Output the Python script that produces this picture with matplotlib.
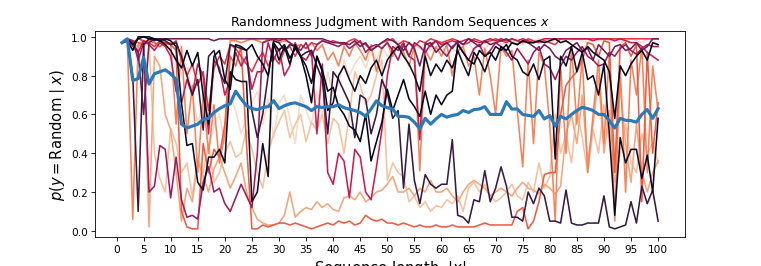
import numpy as np
import matplotlib
matplotlib.use('Agg')
import matplotlib.pyplot as plt
import seaborn as sns

# sequence lengths
lengths = list(range(1, 101))

# p(y = Random | x) for individual random sequences
black_a = [0.97, 0.98, 0.93, 1.00, 1.00, 0.99, 0.99, 0.98, 0.96, 0.93,
           0.88, 0.84, 0.93, 0.85, 0.92, 0.70, 0.55, 0.90, 0.93, 0.78,
           0.73, 0.96, 0.95, 0.93, 0.96, 0.90, 0.86, 0.80, 0.97, 0.93,
           0.96, 0.89, 0.94, 0.90, 0.80, 0.66, 0.90, 0.83, 0.72, 0.74,
           0.64, 0.60, 0.54, 0.52, 0.46, 0.60, 0.36, 0.46, 0.56, 0.73,
           0.62, 0.70, 0.78, 0.68, 0.64, 0.59, 0.72, 0.60, 0.70, 0.65,
           0.70, 0.72, 0.96, 0.92, 0.88, 0.86, 0.93, 0.90, 0.92, 0.88,
           0.95, 0.93, 0.97, 0.96, 0.98, 0.97, 0.97, 0.98, 0.97, 0.98,
           0.99, 0.97, 0.98, 0.96, 0.94, 0.92, 0.95, 0.92, 0.90, 0.88,
           0.82, 0.58, 0.85, 0.80, 0.86, 0.90, 0.93, 0.88, 0.97, 0.96]
black_b = [0.97, 0.99, 0.96, 0.99, 1.00, 1.00, 0.99, 0.98, 0.99, 0.98,
           0.95, 0.66, 0.44, 0.45, 0.25, 0.21, 0.38, 0.38, 0.42, 0.35,
           0.82, 0.78, 0.77, 0.77, 0.15, 0.20, 0.45, 0.28, 0.97, 0.88,
           0.95, 0.86, 0.96, 0.90, 0.85, 0.76, 0.90, 0.82, 0.62, 0.66,
           0.80, 0.85, 0.78, 0.72, 0.80, 0.76, 0.84, 0.88, 0.80, 0.88,
           0.92, 0.95, 0.90, 0.86, 0.80, 0.72, 0.90, 0.80, 0.86, 0.82,
           0.88, 0.84, 0.93, 0.86, 0.80, 0.92, 0.88, 0.82, 0.90, 0.95,
           0.93, 0.96, 0.90, 0.88, 0.82, 0.80, 0.86, 0.78, 0.88, 0.90,
           0.37, 0.90, 0.85, 0.95, 0.82, 0.92, 0.78, 0.80, 0.70, 0.86,
           0.50, 0.08, 0.48, 0.35, 0.42, 0.42, 0.27, 0.39, 0.20, 0.58]
dark_purple = [0.97, 0.98, 0.80, 0.10, 0.96, 0.99, 0.98, 0.99, 0.98, 0.96,
               0.97, 0.90, 0.80, 0.70, 0.78, 0.52, 0.90, 0.93, 0.82, 0.76,
               0.96, 0.95, 0.94, 0.93, 0.62, 0.48, 0.60, 0.80, 0.98, 0.97,
               0.93, 0.96, 0.95, 0.90, 0.92, 0.93, 0.85, 0.78, 0.50, 0.82,
               0.78, 0.72, 0.66, 0.48, 0.70, 0.68, 0.50, 0.60, 0.78, 0.71,
               0.58, 0.62, 0.22, 0.55, 0.26, 0.14, 0.29, 0.24, 0.22, 0.24,
               0.24, 0.47, 0.08, 0.07, 0.04, 0.16, 0.15, 0.31, 0.15, 0.22,
               0.33, 0.23, 0.07, 0.07, 0.05, 0.20, 0.14, 0.22, 0.18, 0.05,
               0.05, 0.04, 0.21, 0.04, 0.03, 0.03, 0.04, 0.04, 0.04, 0.18,
               0.02, 0.01, 0.02, 0.03, 0.15, 0.04, 0.23, 0.14, 0.21, 0.05]
plum = [0.97, 0.99, 0.97, 0.92, 0.60, 0.97, 0.99, 0.99, 0.99, 0.99,
        0.99, 0.99, 0.99, 0.99, 0.99, 0.99, 0.99, 0.98, 0.99, 0.99,
        0.99, 0.99, 0.99, 0.99, 0.99, 0.99, 0.99, 0.99, 0.99, 0.99,
        0.99, 0.99, 0.99, 0.99, 0.99, 0.99, 0.99, 0.99, 0.98, 0.97,
        0.97, 0.97, 0.96, 0.98, 0.95, 0.97, 0.93, 0.95, 0.97, 0.99,
        0.98, 0.96, 0.93, 0.97, 0.94, 0.85, 0.96, 0.97, 0.92, 0.95,
        0.97, 0.94, 0.98, 0.96, 0.99, 0.97, 0.95, 0.98, 0.96, 0.97,
        0.98, 0.99, 0.97, 0.96, 0.98, 0.97, 0.95, 0.93, 0.96, 0.94,
        0.90, 0.88, 0.93, 0.95, 0.97, 0.93, 0.94, 0.88, 0.96, 0.93,
        0.90, 0.95, 0.96, 0.93, 0.94, 0.97, 0.93, 0.95, 0.99, 0.99]
magenta = [0.97, 0.99, 0.98, 0.88, 0.97, 0.20, 0.23, 0.44, 0.42, 0.17,
           0.38, 0.16, 0.07, 0.08, 0.06, 0.25, 0.33, 0.20, 0.22, 0.14,
           0.10, 0.17, 0.24, 0.18, 0.12, 0.40, 0.97, 0.98, 0.99, 0.98,
           0.99, 0.97, 0.95, 0.93, 0.97, 0.90, 0.96, 0.98, 0.97, 0.96,
           0.95, 0.97, 0.94, 0.96, 0.98, 0.92, 0.95, 0.96, 0.94, 0.97,
           0.93, 0.88, 0.96, 0.90, 0.97, 0.95, 0.92, 0.96, 0.98, 0.93,
           0.90, 0.95, 0.97, 0.92, 0.88, 0.94, 0.96, 0.90, 0.93, 0.97,
           0.95, 0.92, 0.88, 0.94, 0.90, 0.86, 0.92, 0.95, 0.86, 0.84,
           0.78, 0.85, 0.90, 0.88, 0.92, 0.95, 0.90, 0.88, 0.85, 0.86,
           0.92, 0.90, 0.94, 0.96, 0.93, 0.91, 0.94, 0.96, 0.95, 0.95]
crimson = [0.97, 0.98, 0.95, 0.92, 0.98, 0.96, 0.93, 0.97, 0.95, 0.90,
           0.72, 0.66, 0.78, 0.70, 0.86, 0.80, 0.50, 0.88, 0.84, 0.70,
           0.78, 0.92, 0.85, 0.90, 0.73, 0.82, 0.82, 0.97, 0.88, 0.94,
           0.80, 0.85, 0.97, 0.90, 0.88, 0.93, 0.50, 0.86, 0.30, 0.24,
           0.40, 0.36, 0.17, 0.42, 0.38, 0.20, 0.16, 0.33, 0.52, 0.80,
           0.95, 0.93, 0.97, 0.90, 0.88, 0.47, 0.97, 0.95, 0.98, 0.96,
           0.97, 0.98, 0.97, 0.98, 0.99, 0.98, 0.97, 0.98, 0.99, 0.98,
           0.99, 0.98, 0.99, 0.98, 0.99, 0.98, 0.97, 0.98, 0.99, 0.99,
           0.99, 0.99, 0.99, 0.99, 0.99, 0.99, 0.99, 0.98, 0.99, 0.99,
           0.99, 0.98, 0.99, 0.98, 0.97, 0.97, 0.95, 0.92, 0.90, 0.88]
red = [0.97, 0.99, 0.97, 0.99, 0.98, 0.97, 0.95, 0.98, 0.97, 0.96,
       0.98, 0.88, 0.80, 0.86, 0.75, 0.82, 0.62, 0.84, 0.90, 0.86,
       0.96, 0.94, 0.90, 0.86, 0.82, 0.88, 0.92, 0.85, 0.90, 0.86,
       0.93, 0.95, 0.90, 0.96, 0.94, 0.97, 0.96, 0.98, 0.97, 0.98,
       0.97, 0.96, 0.98, 0.99, 0.97, 0.96, 0.93, 0.95, 0.97, 0.98,
       0.99, 0.96, 0.98, 0.97, 0.95, 0.98, 0.97, 0.99, 0.98, 0.97,
       0.98, 0.99, 0.98, 0.96, 0.97, 0.99, 0.98, 0.97, 0.98, 0.99,
       0.98, 0.97, 0.99, 0.98, 0.97, 0.99, 0.98, 0.97, 0.98, 0.97,
       0.96, 0.99, 0.99, 0.99, 0.99, 0.99, 0.99, 0.99, 0.99, 0.99,
       0.99, 0.99, 0.99, 0.99, 0.99, 0.99, 0.99, 0.99, 0.99, 0.99]
red_orange = [0.97, 0.99, 0.98, 0.97, 0.96, 0.98, 0.97, 0.95, 0.97, 0.96,
              0.93, 0.10, 0.02, 0.01, 0.01, 0.45, 0.30, 0.42, 0.38, 0.55,
              0.90, 0.85, 0.95, 0.45, 0.01, 0.01, 0.03, 0.02, 0.03, 0.04,
              0.04, 0.03, 0.04, 0.03, 0.02, 0.01, 0.02, 0.03, 0.04, 0.03,
              0.05, 0.04, 0.05, 0.03, 0.04, 0.08, 0.06, 0.05, 0.06, 0.04,
              0.04, 0.03, 0.04, 0.03, 0.02, 0.03, 0.02, 0.02, 0.03, 0.02,
              0.02, 0.03, 0.02, 0.02, 0.02, 0.02, 0.03, 0.04, 0.03, 0.03,
              0.03, 0.03, 0.03, 0.10, 0.12, 0.01, 0.05, 0.15, 0.29, 0.30,
              0.30, 0.60, 0.75, 0.79, 0.82, 0.88, 0.97, 0.96, 0.90, 0.98,
              0.97, 0.30, 0.95, 0.97, 0.90, 0.96, 0.15, 0.92, 0.40, 0.66]
orange = [0.97, 0.98, 0.06, 0.96, 0.98, 0.97, 0.99, 0.98, 0.96, 0.97,
          0.55, 0.95, 0.50, 0.75, 0.30, 0.70, 0.40, 0.65, 0.35, 0.50,
          0.98, 0.98, 0.97, 0.98, 0.99, 0.98, 0.97, 0.99, 0.98, 0.97,
          0.98, 0.97, 0.95, 0.96, 0.94, 0.97, 0.93, 0.96, 0.88, 0.92,
          0.85, 0.95, 0.90, 0.97, 0.93, 0.88, 0.96, 0.82, 0.94, 0.97,
          0.90, 0.96, 0.92, 0.85, 0.95, 0.31, 0.93, 0.88, 0.95, 0.90,
          0.96, 0.80, 0.93, 0.95, 0.85, 0.90, 0.70, 0.94, 0.80, 0.60,
          0.95, 0.90, 0.93, 0.62, 0.33, 0.88, 0.45, 0.92, 0.85, 0.55,
          0.05, 0.85, 0.40, 0.95, 0.55, 0.90, 0.30, 0.60, 0.88, 0.45,
          0.92, 0.05, 0.85, 0.20, 0.88, 0.70, 0.95, 0.30, 0.85, 0.62]
peach = [0.97, 0.98, 0.96, 0.95, 0.97, 0.02, 0.90, 0.85, 0.60, 0.52,
         0.30, 0.05, 0.22, 0.15, 0.36, 0.28, 0.20, 0.32, 0.38, 0.30,
         0.22, 0.28, 0.35, 0.20, 0.12, 0.06, 0.04, 0.03, 0.03, 0.04,
         0.08, 0.20, 0.07, 0.10, 0.12, 0.11, 0.15, 0.12, 0.14, 0.11,
         0.10, 0.17, 0.18, 0.16, 0.20, 0.15, 0.17, 0.20, 0.21, 0.24,
         0.28, 0.20, 0.20, 0.22, 0.18, 0.22, 0.20, 0.26, 0.20, 0.20,
         0.22, 0.18, 0.15, 0.20, 0.24, 0.26, 0.24, 0.22, 0.18, 0.20,
         0.22, 0.20, 0.18, 0.22, 0.25, 0.22, 0.21, 0.19, 0.24, 0.22,
         0.19, 0.23, 0.50, 0.60, 0.45, 0.70, 0.35, 0.55, 0.80, 0.40,
         0.62, 0.30, 0.75, 0.45, 0.25, 0.55, 0.30, 0.20, 0.30, 0.36]
light_peach = [0.97, 0.99, 0.98, 0.97, 0.95, 0.98, 0.40, 0.27, 0.20, 0.53,
               0.45, 0.30, 0.35, 0.18, 0.37, 0.30, 0.45, 0.25, 0.30, 0.40,
               0.46, 0.38, 0.40, 0.52, 0.42, 0.30, 0.22, 0.40, 0.50, 0.56,
               0.62, 0.48, 0.55, 0.60, 0.46, 0.56, 0.52, 0.60, 0.45, 0.58,
               0.55, 0.40, 0.60, 0.82, 0.75, 0.65, 0.70, 0.80, 0.88, 0.26,
               0.35, 0.30, 0.28, 0.15, 0.18, 0.12, 0.15, 0.10, 0.13, 0.12,
               0.16, 0.14, 0.18, 0.10, 0.22, 0.25, 0.20, 0.24, 0.18, 0.15,
               0.17, 0.20, 0.24, 0.18, 0.16, 0.25, 0.20, 0.35, 0.22, 0.28,
               0.60, 0.40, 0.50, 0.35, 0.62, 0.48, 0.30, 0.52, 0.40, 0.65,
               0.45, 0.25, 0.40, 0.55, 0.35, 0.30, 0.50, 0.40, 0.45, 0.35]
very_light = [0.97, 0.98, 0.97, 0.99, 0.98, 0.96, 0.97, 0.95, 0.97, 0.96,
              0.94, 0.90, 0.85, 0.70, 0.55, 0.66, 0.42, 0.55, 0.60, 0.45,
              0.70, 0.62, 0.50, 0.58, 0.66, 0.72, 0.55, 0.68, 0.48, 0.66,
              0.70, 0.58, 0.45, 0.70, 0.62, 0.55, 0.72, 0.60, 0.82, 0.70,
              0.76, 0.88, 0.80, 0.86, 0.90, 0.84, 0.92, 0.88, 0.95, 0.90,
              0.93, 0.97, 0.95, 0.92, 0.96, 0.94, 0.97, 0.93, 0.95, 0.96,
              0.90, 0.94, 0.92, 0.95, 0.97, 0.93, 0.96, 0.94, 0.97, 0.98,
              0.96, 0.97, 0.98, 0.97, 0.96, 0.98, 0.97, 0.99, 0.98, 0.97,
              0.98, 0.99, 0.97, 0.98, 0.99, 0.98, 0.97, 0.99, 0.98, 0.99,
              0.98, 0.99, 0.97, 0.98, 0.99, 0.98, 0.97, 0.99, 0.98, 0.96]

# mean over sequences
mean_p = [0.97, 0.99, 0.775, 0.785, 0.895, 0.757, 0.81, 0.82, 0.83, 0.81,
          0.78, 0.55, 0.53, 0.54, 0.55, 0.575, 0.58, 0.61, 0.63, 0.645,
          0.655, 0.72, 0.68, 0.645, 0.63, 0.625, 0.636, 0.64, 0.671, 0.63,
          0.645, 0.655, 0.66, 0.65, 0.64, 0.62, 0.64, 0.636, 0.64, 0.64,
          0.65, 0.635, 0.627, 0.62, 0.61, 0.59, 0.628, 0.67, 0.645, 0.635,
          0.628, 0.59, 0.59, 0.585, 0.56, 0.525, 0.58, 0.55, 0.577, 0.60,
          0.586, 0.595, 0.60, 0.62, 0.61, 0.625, 0.628, 0.64, 0.60, 0.60,
          0.60, 0.666, 0.628, 0.628, 0.60, 0.595, 0.59, 0.62, 0.577, 0.594,
          0.54, 0.59, 0.577, 0.60, 0.62, 0.637, 0.63, 0.62, 0.60, 0.60,
          0.568, 0.53, 0.58, 0.57, 0.568, 0.56, 0.60, 0.625, 0.58, 0.63]

sequences = [very_light, light_peach, peach, orange, red_orange, red,
             crimson, magenta, plum, dark_purple, black_b, black_a]
shades = [0.96, 0.89, 0.82, 0.74, 0.66, 0.58, 0.50, 0.40, 0.28, 0.15, 0.04, 0.0]

rocket = sns.color_palette("rocket", as_cmap=True)

fig, ax = plt.subplots(figsize=(10, 3.5085), dpi=76.1)

for seq, s in zip(sequences, shades):
    ax.plot(lengths, seq, color=rocket(s), lw=1.5)

ax.plot(lengths, mean_p, color='#2a7ab9', lw=3)

ax.set_xticks(np.arange(0, 101, 5))
ax.set_ylim(-0.03, 1.03)
ax.set_title('Randomness Judgment with Random Sequences $x$', fontsize=12)
ax.set_ylabel(r'$p(y = \mathrm{Random} \mid x)$', fontsize=14)
ax.set_xlabel(r'Sequence length, $|x|$', fontsize=14)

plt.savefig('out.png', dpi=76.1)
